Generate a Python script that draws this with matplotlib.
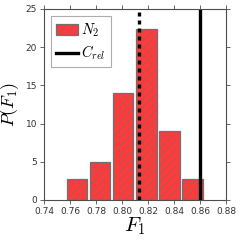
import matplotlib
matplotlib.use("Agg")
import matplotlib.pyplot as plt
import numpy as np

# histogram of F1 scores (density)
bin_centers = [0.7654, 0.7831, 0.8008, 0.8187, 0.8366, 0.8543]
density = [2.8, 5.0, 14.0, 22.4, 9.0, 2.8]
bar_width = 0.016

mean_f1 = 0.8133   # dotted line
c_rel = 0.860      # solid line

xticks = [0.74, 0.76, 0.78, 0.80, 0.82, 0.84, 0.86, 0.88]
yticks = [0, 5, 10, 15, 20, 25]

plt.rcParams["mathtext.fontset"] = "cm"
plt.rcParams["hatch.color"] = "#c02a2a"
plt.rcParams["hatch.linewidth"] = 0.4

fig = plt.figure(figsize=(2.4, 2.4), dpi=100)
ax = fig.add_axes([0.183, 0.167, 0.759, 0.796])

bars = ax.bar(bin_centers, density, width=bar_width, color="#ff3a3a",
              edgecolor="#707070", linewidth=0.9, hatch="////")
ax.axvline(mean_f1, color="black", linestyle=(0, (1.2, 1.2)), linewidth=2.4)
line = ax.axvline(c_rel, color="black", linewidth=2.4)

ax.set_xlim(0.74, 0.88)
ax.set_ylim(0, 25)
ax.set_xticks(xticks)
ax.set_yticks(yticks)
ax.set_xticklabels([f"{t:.2f}" for t in xticks])
ax.tick_params(axis="both", which="both", direction="out", length=3,
               width=0.6, labelsize=6.5, colors="0.3", labelcolor="0.2",
               top=True, right=True, pad=2)
for s in ax.spines.values():
    s.set_color("0.3")
    s.set_linewidth(0.8)

ax.set_xlabel("$F_1$", fontsize=15, labelpad=0)
ax.set_ylabel("$P(F_1)$", fontsize=13, labelpad=3)

leg = ax.legend([bars, line], ["$N_2$", "$C_{rel}$"], loc="upper left",
                fontsize=10.5, fancybox=False, edgecolor="0.6",
                handlelength=1.5, handleheight=0.8, borderaxespad=0.5,
                handletextpad=0.2, labelspacing=0.35, borderpad=0.35)
leg.get_frame().set_linewidth(0.8)

fig.savefig("out.png", dpi=100)
